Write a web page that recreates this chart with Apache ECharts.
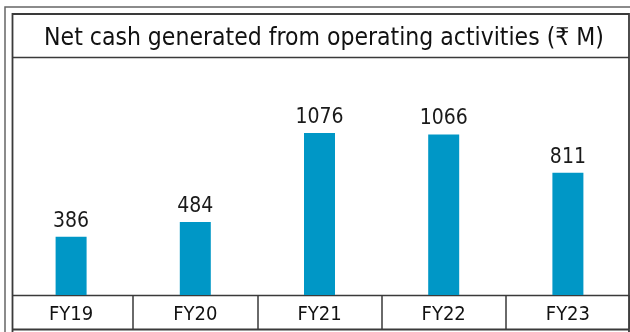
<!DOCTYPE html>
<html>
<head>
<meta charset="utf-8">
<script src="https://cdn.jsdelivr.net/npm/echarts@6/dist/echarts.min.js"></script>
<style>
  html, body { margin: 0; padding: 0; background: #fff; }
  #chart { width: 630px; height: 332px; }
</style>
</head>
<body>
<div id="chart"></div>
<script>
// Net cash generated from operating activities, in ₹ million
const years = ['FY19', 'FY20', 'FY21', 'FY22', 'FY23'];
const netCash = [386, 484, 1076, 1066, 811];
const chartTitle = 'Net cash generated from operating activities (₹ M)';

const FONT = '"Liberation Sans Narrow", "DejaVu Sans Condensed", sans-serif';
const LINE = '#3a3a3a';

const chart = echarts.init(document.getElementById('chart'), null, { renderer: 'canvas' });

chart.setOption({
  animation: false,
  backgroundColor: '#ffffff',
  title: {
    text: chartTitle,
    left: 319,
    top: 21,
    textAlign: 'center',
    textStyle: { fontFamily: FONT, fontSize: 24.5, fontWeight: 'normal', color: '#111' }
  },
  grid: { left: 9, width: 625, top: 69, bottom: 37, containLabel: false },
  xAxis: {
    type: 'category',
    data: years,
    boundaryGap: true,
    axisLine: { show: false },
    axisTick: {
      show: true,
      length: 34,
      interval: (i) => i > 0,
      lineStyle: { color: LINE, width: 1.5 }
    },
    axisLabel: { margin: 10, fontFamily: FONT, fontSize: 20, color: '#111' }
  },
  yAxis: {
    type: 'value',
    min: 0,
    max: 1500,
    show: false,
    splitLine: { show: false }
  },
  series: [{
    type: 'bar',
    data: netCash,
    barWidth: 31,
    itemStyle: { color: '#0097c6' },
    label: {
      show: true,
      position: 'top',
      distance: 5,
      fontFamily: FONT,
      fontSize: 21,
      color: '#1a1a1a'
    }
  }],
  graphic: [
    // outer frame (left and top edges)
    { type: 'polyline', silent: true, shape: { points: [[5, 332], [5, 7], [630, 7]] },
      style: { stroke: '#666', lineWidth: 1.5, fill: null } },
    // inner frame
    { type: 'polyline', silent: true, shape: { points: [[12.5, 332], [12.5, 14], [629, 14], [629, 332]] },
      style: { stroke: LINE, lineWidth: 1.8, fill: null } },
    { type: 'line', silent: true, shape: { x1: 12.5, y1: 329.5, x2: 629, y2: 329.5 },
      style: { stroke: LINE, lineWidth: 1.8 } },
    // rule under the title
    { type: 'line', silent: true, shape: { x1: 12.5, y1: 57.5, x2: 629, y2: 57.5 },
      style: { stroke: LINE, lineWidth: 1.5 } },
    // baseline above the year cells
    { type: 'line', silent: true, shape: { x1: 12.5, y1: 295.5, x2: 629, y2: 295.5 },
      style: { stroke: LINE, lineWidth: 1.5 } }
  ]
});
</script>
</body>
</html>
